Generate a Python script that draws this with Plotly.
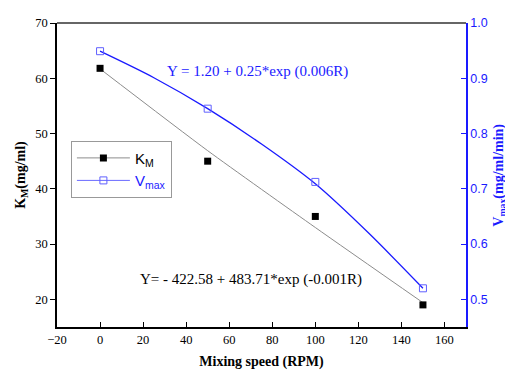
import plotly.graph_objects as go

# Data
speed = [0, 50, 100, 150]
km = [61.8, 45.0, 35.0, 19.0]
vmax = [0.949, 0.845, 0.7125, 0.52]
km_fit_x = [0, 50, 100, 150]
km_fit = [61.7, 46.9, 33.0, 19.4]
vmax_fit_x = [0, 25, 50, 75, 100, 125, 150]
vmax_fit = [0.949, 0.901, 0.845, 0.781, 0.709, 0.619, 0.52]
x_ticks = [-20, 0, 20, 40, 60, 80, 100, 120, 140, 160]
y_ticks = [20, 30, 40, 50, 60, 70]
y2_ticks = [0.5, 0.6, 0.7, 0.8, 0.9, 1.0]

SERIF = "Liberation Serif"
SANS = "Liberation Sans"
BLUE = "#1a1aff"

fig = go.Figure()

# KM fit line (gray)
fig.add_trace(go.Scatter(x=km_fit_x, y=km_fit, mode="lines",
                         line=dict(color="#8c8c8c", width=1, shape="spline", smoothing=0.6),
                         showlegend=False, hoverinfo="skip"))
# KM data
fig.add_trace(go.Scatter(x=speed, y=km, mode="markers",
                         marker=dict(symbol="square", size=7, color="black"),
                         showlegend=False))
# Vmax fit curve + data
fig.add_trace(go.Scatter(x=vmax_fit_x, y=vmax_fit, mode="lines",
                         line=dict(color=BLUE, width=1.3, shape="spline", smoothing=0.8),
                         yaxis="y2", showlegend=False, hoverinfo="skip"))
fig.add_trace(go.Scatter(x=speed, y=vmax, mode="markers",
                         marker=dict(symbol="square-open", size=7, color="#6060ff", line=dict(width=1)),
                         yaxis="y2", showlegend=False))

# legend entries
fig.add_trace(go.Scatter(x=[None], y=[None], mode="lines+markers", name="K<sub>M</sub>",
                         line=dict(color="#8c8c8c", width=1),
                         marker=dict(symbol="square", size=7, color="black")))
fig.add_trace(go.Scatter(x=[None], y=[None], mode="lines+markers",
                         name="<span style='color:#1a1aff'>V<sub>max</sub></span>",
                         line=dict(color="#6a6aff", width=1),
                         marker=dict(symbol="square-open", size=7, color="#6060ff")))

fig.add_annotation(x=0.491, y=0.839, xref="paper", yref="paper", xanchor="center", yanchor="middle",
                   text="Y = 1.20 + 0.25*exp (0.006R)",
                   showarrow=False, font=dict(family=SERIF, size=15, color=BLUE))
fig.add_annotation(x=0.474, y=0.155, xref="paper", yref="paper", xanchor="center", yanchor="middle",
                   text="Y= - 422.58 + 483.71*exp (-0.001R)",
                   showarrow=False, font=dict(family=SERIF, size=15, color="black"))
# right axis title
fig.add_annotation(x=1.080, y=0.5, xref="paper", yref="paper", xanchor="center", yanchor="middle",
                   textangle=-90,
                   text="<b>V<sub>max</sub>(mg/ml/min)</b>", showarrow=False,
                   font=dict(family=SERIF, size=14, color=BLUE))

fig.update_layout(
    width=505, height=362,
    margin=dict(l=49, r=47, t=15, b=43, autoexpand=False),
    paper_bgcolor="white", plot_bgcolor="white",
    showlegend=True,
    legend=dict(x=0.034, y=0.613, xanchor="left", yanchor="top",
                bordercolor="#999999", borderwidth=1, bgcolor="white",
                font=dict(family=SANS, size=15, color="black"),
                itemwidth=53, tracegroupgap=0),
    xaxis=dict(range=[-20, 170], tickvals=x_ticks, ticks="inside", ticklen=5, tickcolor="black",
               showline=True, linecolor="black", linewidth=1.5, showgrid=False, zeroline=False,
               automargin=False,
               tickfont=dict(family=SERIF, size=12.5, color="black"),
               title=dict(text="<b>Mixing speed (RPM)</b>", font=dict(family=SERIF, size=14, color="black"), standoff=10)),
    yaxis=dict(range=[15, 70], tickvals=y_ticks, ticks="outside", ticklen=5, tickcolor="black",
               showline=True, linecolor="black", linewidth=1.5, showgrid=False, zeroline=False,
               automargin=False,
               tickfont=dict(family=SERIF, size=12.5, color="black"),
               title=dict(text="<b>K<sub>M</sub>(mg/ml)</b>", font=dict(family=SERIF, size=14, color="black"), standoff=6)),
    yaxis2=dict(range=[0.45, 1.0], tickvals=y2_ticks, tickformat=".1f", overlaying="y", side="right",
                ticks="inside", ticklen=5, tickcolor=BLUE,
                showline=True, linecolor=BLUE, linewidth=1.5, showgrid=False, zeroline=False,
                automargin=False,
                tickfont=dict(family=SANS, size=12.5, color=BLUE)),
)
# top frame line
fig.add_shape(type="line", xref="paper", yref="paper", x0=0, x1=1, y0=1, y1=1,
              line=dict(color="#333333", width=1.5))

fig.write_html("out.html")
